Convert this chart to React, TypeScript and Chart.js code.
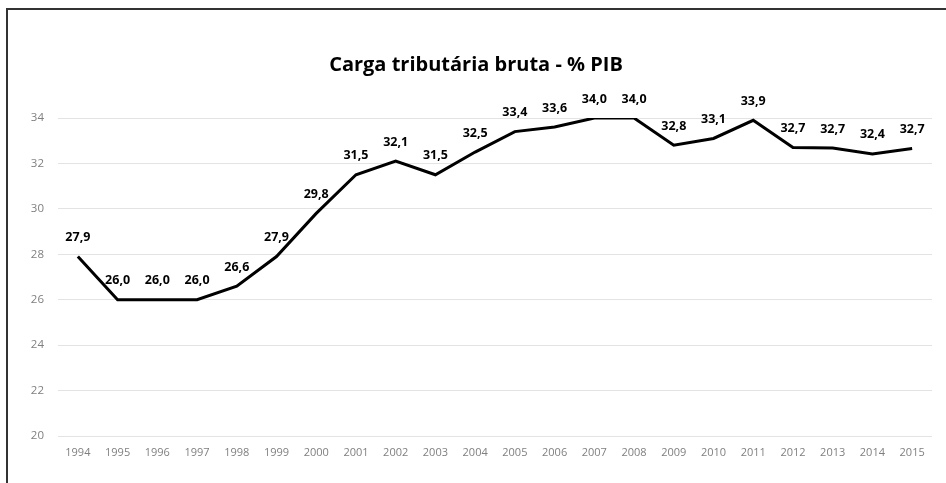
import React, { useEffect, useRef } from "react";
import { Chart, registerables } from "chart.js";

Chart.register(...registerables);

const years = ["1994","1995","1996","1997","1998","1999","2000","2001","2002","2003","2004","2005","2006","2007","2008","2009","2010","2011","2012","2013","2014","2015"];
const carga = [27.9, 26.0, 26.0, 26.0, 26.6, 27.9, 29.8, 31.5, 32.1, 31.5, 32.5, 33.4, 33.6, 34.0, 34.0, 32.8, 33.1, 33.9, 32.7, 32.68, 32.42, 32.66];
const valueLabels = ["27,9","26,0","26,0","26,0","26,6","27,9","29,8","31,5","32,1","31,5","32,5","33,4","33,6","34,0","34,0","32,8","33,1","33,9","32,7","32,7","32,4","32,7"];
const titleText = "Carga tributária bruta - % PIB";

const labelPlugin = {
  id: "valueLabels",
  afterDatasetsDraw(chart: any) {
    const ctx = chart.ctx;
    const meta = chart.getDatasetMeta(0);
    ctx.save();
    ctx.font = "bold 12.5px 'Open Sans'";
    ctx.fillStyle = "#000";
    ctx.textAlign = "center";
    ctx.textBaseline = "middle";
    meta.data.forEach((pt: any, i: number) => {
      ctx.fillText(valueLabels[i], pt.x, pt.y - 19);
    });
    ctx.restore();
  },
};

export default function App() {
  const ref = useRef<HTMLCanvasElement>(null);
  useEffect(() => {
    if (!ref.current) return;
    const chart = new Chart(ref.current, {
      type: "line",
      data: {
        labels: years,
        datasets: [
          {
            data: carga,
            borderColor: "#000",
            borderWidth: 3,
            pointRadius: 0,
            tension: 0,
            fill: false,
          },
        ],
      },
      options: {
        animation: false,
        responsive: false,
        layout: { padding: { left: 20, right: 14, top: 0, bottom: 0 } },
        plugins: {
          legend: { display: false },
          tooltip: { enabled: false },
          title: {
            display: true,
            text: titleText,
            color: "#000",
            font: { family: "'Open Sans'", size: 20, weight: "bold", lineHeight: 1.2 },
            padding: { top: 53, bottom: 41 },
          },
        },
        scales: {
          x: {
            offset: true,
            grid: { display: false, drawTicks: false },
            border: { display: false },
            ticks: { color: "#7f7f7f", font: { family: "'Open Sans'", size: 11 }, padding: 10, maxRotation: 0, autoSkip: false },
            afterFit: (s: any) => { s.height = 47; },
          },
          y: {
            min: 20,
            max: 34,
            ticks: { stepSize: 2, color: "#7f7f7f", font: { family: "'Open Sans'", size: 11.5 }, padding: 14 },
            grid: { color: "#e3e3e3", lineWidth: 1, drawTicks: false },
            border: { display: false },
            afterFit: (s: any) => { s.width = 38; },
          },
        },
      },
      plugins: [labelPlugin],
    });
    return () => chart.destroy();
  }, []);

  return (
    <div style={{ position: "fixed", left: 0, top: 0, width: 946, height: 483, overflow: "hidden", background: "#fff" }}>
      <canvas ref={ref} width={946} height={483} style={{ position: "absolute", left: 0, top: 0 }} />
      <div style={{ position: "absolute", left: 6, top: 8, width: 2000, height: 2000, borderLeft: "2px solid #333", borderTop: "2px solid #333", pointerEvents: "none" }} />
    </div>
  );
}
